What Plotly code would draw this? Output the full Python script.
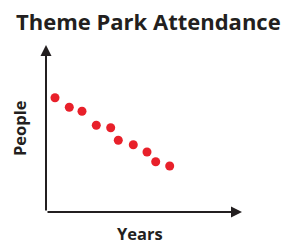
import plotly.graph_objects as go

title = "Theme Park Attendance"
x_label = "Years"
y_label = "People"
years = [0.9, 2.33, 3.6, 5.03, 6.47, 7.23, 8.73, 10.1, 10.97, 12.37]
people = [11.43, 10.47, 10.07, 8.67, 8.43, 7.17, 6.73, 6.0, 5.03, 4.6]

X_MAX = 19.6
Y_MAX = 16.7
FONT = "Open Sans"
AXIS_COLOR = "#231f20"

fig = go.Figure()
fig.add_trace(go.Scatter(
    x=years, y=people, mode="markers",
    marker=dict(size=9, color="#e8202a", line=dict(width=0)),
    hoverinfo="skip", showlegend=False,
))

# axis arrows
fig.add_annotation(x=X_MAX, y=0, ax=0, ay=0, xref="x", yref="y", axref="x", ayref="y",
                   showarrow=True, arrowhead=2, arrowsize=1.1, arrowwidth=2,
                   arrowcolor=AXIS_COLOR, text="")
fig.add_annotation(x=0, y=Y_MAX, ax=0, ay=0, xref="x", yref="y", axref="x", ayref="y",
                   showarrow=True, arrowhead=2, arrowsize=1.1, arrowwidth=2,
                   arrowcolor=AXIS_COLOR, text="")

fig.add_annotation(text=f"<b>{title}</b>", xref="paper", yref="paper",
                   x=0.525, y=1.0, xanchor="center", yanchor="bottom", yshift=7,
                   showarrow=False, font=dict(family=FONT, size=22, color="#231f20"))
fig.add_annotation(text=f"<b>{x_label}</b>", xref="paper", yref="paper",
                   x=0.48, y=0, xanchor="center", yanchor="top", yshift=-8,
                   showarrow=False, font=dict(family=FONT, size=16.5, color="#231f20"))
fig.add_annotation(text=f"<b>{y_label}</b>", xref="paper", yref="paper",
                   x=0, y=0.5, xanchor="right", yanchor="middle", xshift=-13,
                   textangle=-90,
                   showarrow=False, font=dict(family=FONT, size=16.5, color="#231f20"))

fig.update_xaxes(range=[0, X_MAX], visible=False, fixedrange=True)
fig.update_yaxes(range=[0, Y_MAX], visible=False, fixedrange=True)
fig.update_layout(
    width=287, height=244,
    margin=dict(l=46, r=45, t=45, b=32),
    plot_bgcolor="white", paper_bgcolor="white",
)
fig.write_html("out.html", config={"displayModeBar": False},
               post_script="document.body.style.margin='0';document.body.style.overflow='hidden';")
